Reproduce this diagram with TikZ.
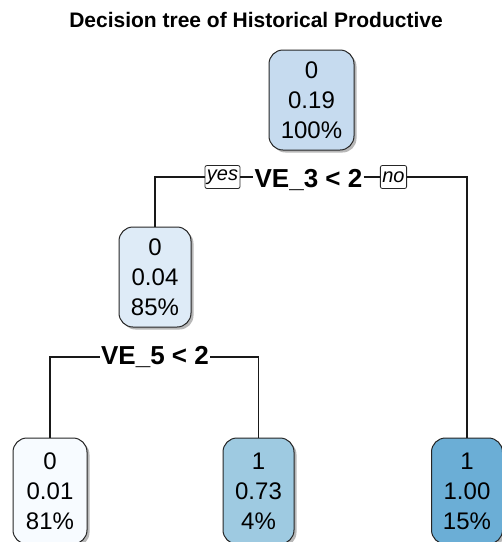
\documentclass[tikz,border=0pt]{standalone}
\usepackage{fontspec}
\setmainfont{Liberation Sans}
\usetikzlibrary{shadows}
\definecolor{c100}{HTML}{C6DBEF}
\definecolor{c85}{HTML}{DEEBF7}
\definecolor{c81}{HTML}{F7FBFF}
\definecolor{c4}{HTML}{9ECAE1}
\definecolor{c15}{HTML}{6BAED6}
\tikzset{
  treebox/.style={draw=black!85, line width=1pt, rounded corners=14pt,
    align=center, inner sep=0pt, minimum height=100pt,
    font=\fontsize{24}{30}\selectfont,
    drop shadow={shadow xshift=2.5pt, shadow yshift=-2.5pt, fill=black, opacity=0.28}},
  leafbox/.style={treebox, minimum height=106pt},
  splitlabel/.style={fill=white, inner sep=1pt, font=\fontsize{26}{30}\selectfont\bfseries},
  yesno/.style={draw=black!85, line width=0.8pt, rounded corners=2pt, fill=white, inner sep=2pt,
    minimum height=23pt, font=\fontsize{20}{22}\selectfont\itshape},
  branch/.style={line width=1.1pt, black!90}
}
\begin{document}
\begin{tikzpicture}[x=1pt, y=-1pt]
\useasboundingbox (0,0) rectangle (502,542);

\node[font=\fontsize{21}{24}\selectfont\bfseries] (title) at (256,20) {Decision tree of Historical Productive};

% internal nodes
\node[treebox, fill=c100, minimum width=85pt] (root) at (311.5,100) {0\\0.19\\100\%};
\node[treebox, fill=c85, minimum width=72pt] (n2) at (155,277) {0\\0.04\\85\%};

% leaves
\node[leafbox, fill=c81, minimum width=74pt] (l1) at (50,491) {0\\0.01\\81\%};
\node[leafbox, fill=c4, minimum width=71pt] (l2) at (258.5,491) {1\\0.73\\4\%};
\node[leafbox, fill=c15, minimum width=71pt] (l3) at (467,491) {1\\1.00\\15\%};

% split labels
\node[splitlabel] (s1) at (308.5,180) {VE\_3 < 2};
\node[yesno] (yes) at (222.5,177) {yes};
\node[yesno] (no) at (393.5,177) {no};
\node[splitlabel] (s2) at (155,357) {VE\_5 < 2};

% branches
\draw[branch] (n2.north) |- (yes.west);
\draw[branch] (yes.east) -- (yes.east -| s1.west);
\draw[branch] (no.west -| s1.east) -- (no.west);
\draw[branch] (no.east) -| (l3.north);
\draw[branch] (l1.north) |- (s2.west);
\draw[branch] (s2.east) -| (l2.north);
\end{tikzpicture}
\end{document}
